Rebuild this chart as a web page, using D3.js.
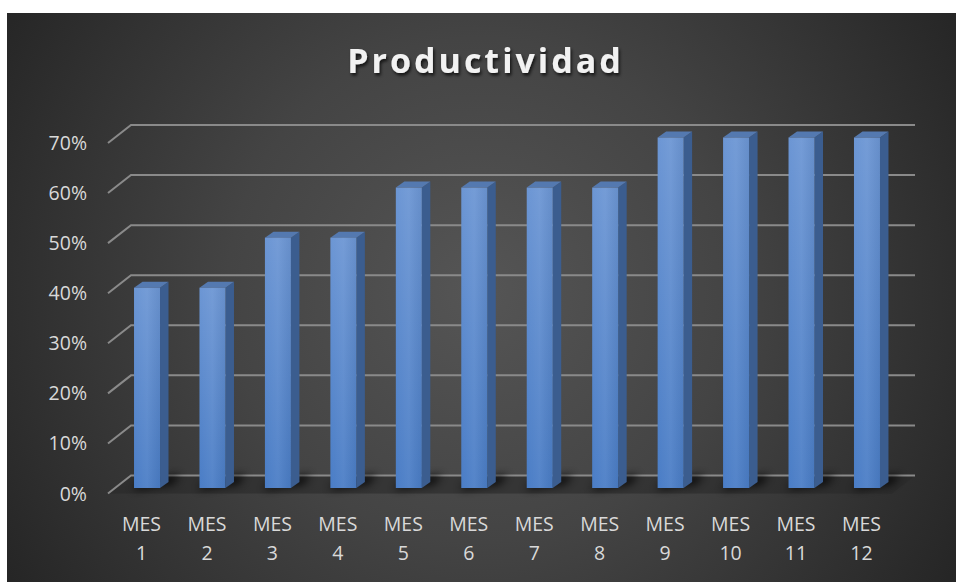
<!DOCTYPE html>
<html><head><meta charset="utf-8">
<script src="https://cdn.jsdelivr.net/npm/d3@7"></script>
<style>html,body{margin:0;padding:0;background:#fff;overflow:hidden}</style>
</head><body>
<svg id="c" width="956" height="582"></svg>
<script>
const categories = ["MES 1","MES 2","MES 3","MES 4","MES 5","MES 6","MES 7","MES 8","MES 9","MES 10","MES 11","MES 12"];
const values = [0.40,0.40,0.50,0.50,0.60,0.60,0.60,0.60,0.70,0.70,0.70,0.70];
const yTicks = [0,0.1,0.2,0.3,0.4,0.5,0.6,0.7];
const title = "Productividad";

const svg = d3.select("#c");
const defs = svg.append("defs");
const rg = defs.append("radialGradient").attr("id","bg").attr("gradientUnits","userSpaceOnUse")
  .attr("cx",480).attr("cy",290).attr("r",560);
rg.append("stop").attr("offset","0").attr("stop-color","#555555");
rg.append("stop").attr("offset","0.45").attr("stop-color","#444444");
rg.append("stop").attr("offset","1").attr("stop-color","#252525");
const fg = defs.append("linearGradient").attr("id","front").attr("x1",0).attr("y1",0).attr("x2",0).attr("y2",1);
fg.append("stop").attr("offset","0").attr("stop-color","#6c96d4");
fg.append("stop").attr("offset","1").attr("stop-color","#4a7dc6");
const fg2 = defs.append("linearGradient").attr("id","front2").attr("x1",0).attr("y1",0).attr("x2",1).attr("y2",0);
fg2.append("stop").attr("offset","0").attr("stop-color","#ffffff").attr("stop-opacity",0.0);
fg2.append("stop").attr("offset","0.5").attr("stop-color","#ffffff").attr("stop-opacity",0.06);
fg2.append("stop").attr("offset","1").attr("stop-color","#000000").attr("stop-opacity",0.05);
const blur = defs.append("filter").attr("id","blur").attr("x","-50%").attr("y","-50%").attr("width","200%").attr("height","200%");
blur.append("feGaussianBlur").attr("stdDeviation",4);
const ts = defs.append("filter").attr("id","tshadow").attr("x","-10%").attr("y","-30%").attr("width","120%").attr("height","160%");
ts.append("feDropShadow").attr("dx",1.5).attr("dy",2.5).attr("stdDeviation",1.5).attr("flood-color","#000").attr("flood-opacity",0.7);

svg.append("rect").attr("x",7).attr("y",13).attr("width",949).attr("height",569).attr("fill","url(#bg)");

// geometry
const y = d3.scaleLinear().domain([0,0.7]).range([475.5,125]); // back wall
const depthX = 23, depthY = 18;  // wall depth
const x = d3.scaleBand().domain(categories).range([108, 893.4]).paddingInner(0).paddingOuter(0);
const backLeft = 131, backRight = 915;

// floor
svg.append("path")
  .attr("d", `M${backLeft-depthX},${y(0)+depthY} L${backLeft},${y(0)} L${backRight},${y(0)} L${backRight-depthX},${y(0)+depthY} Z`)
  .attr("fill","#2a2a2a").attr("opacity",0.6);

// gridlines
const grid = svg.append("g");
yTicks.forEach(t => {
  grid.append("path")
    .attr("d", `M${backLeft-depthX},${y(t)+depthY} L${backLeft},${y(t)} L${backRight},${y(t)}`)
    .attr("fill","none").attr("stroke","#8a8a8a").attr("stroke-width",2);
});

// bar geometry
const bw = 26, sideX = 8.5, sideY = 6, frontOff = 12.5;
const barLeft = d => x(d) + x.bandwidth()/2 - 6.7;

// shadows on floor
svg.append("g").selectAll("path").data(categories).join("path")
  .attr("d", (d,i) => {
    const l = barLeft(d), b = y(0)+frontOff;
    return `M${l-2},${b+2} L${l+bw+sideX+4},${b-sideY+2} L${l+bw+sideX+12},${b-sideY-8} L${l+6},${b-6} Z`;
  })
  .attr("fill","#000").attr("opacity",0.85).attr("filter","url(#blur)");

const bars = svg.append("g").selectAll("g").data(categories).join("g");
bars.each(function(d,i){
  const g = d3.select(this);
  const l = barLeft(d), r = l + bw;
  const top = y(values[i]) + frontOff, bot = y(0) + frontOff;
  g.append("path").attr("d",`M${r},${top} L${r+sideX},${top-sideY} L${r+sideX},${bot-sideY} L${r},${bot} Z`).attr("fill","#3b5d8f");
  g.append("path").attr("d",`M${l},${top} L${l+sideX},${top-sideY} L${r+sideX},${top-sideY} L${r},${top} Z`).attr("fill","#5479b0");
  g.append("rect").attr("x",l).attr("y",top).attr("width",bw).attr("height",bot-top).attr("fill","url(#front)");
  g.append("rect").attr("x",l).attr("y",top).attr("width",bw).attr("height",bot-top).attr("fill","url(#front2)");
});

// y labels
svg.append("g").selectAll("text").data(yTicks).join("text")
  .attr("x",87).attr("y",t => y(t)+depthY+7)
  .attr("text-anchor","end")
  .attr("font-family","'Open Sans', sans-serif").attr("font-size",19.5).attr("fill","#d9d9d9")
  .text(t => d3.format(".0%")(t));

// x labels
const xl = svg.append("g").selectAll("text").data(categories).join("text")
  .attr("text-anchor","middle")
  .attr("font-family","'Open Sans', sans-serif").attr("font-size",19.5).attr("fill","#d9d9d9");
xl.each(function(d){
  const parts = d.split(" ");
  const t = d3.select(this);
  const cx = x(d) + x.bandwidth()/2 + 0.8;
  t.append("tspan").attr("x",cx).attr("y",531).text(parts[0]);
  t.append("tspan").attr("x",cx).attr("y",560).text(parts[1]);
});

// title
svg.append("text").attr("x",485.5).attr("y",73)
  .attr("text-anchor","middle")
  .attr("font-family","'Open Sans', sans-serif").attr("font-weight","bold").attr("font-size",34)
  .attr("letter-spacing",3)
  .attr("fill","#f2f2f2").attr("filter","url(#tshadow)")
  .text(title);
</script>
</body></html>
